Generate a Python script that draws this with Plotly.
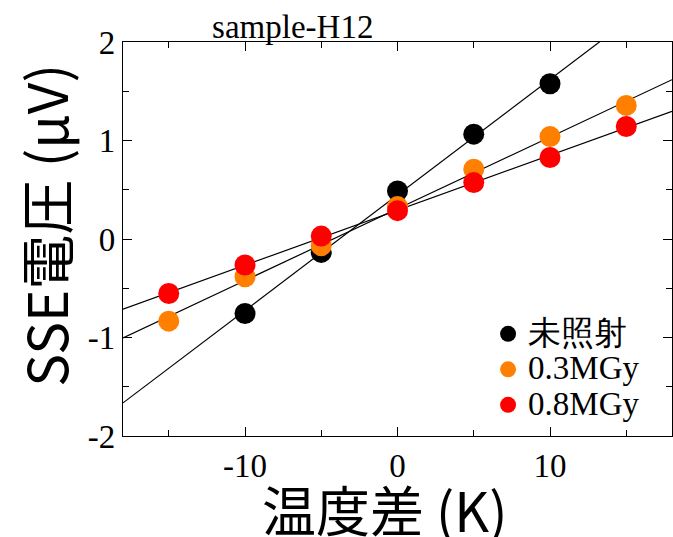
import numpy as np
import plotly.graph_objects as go

# Data
names = ["未照射", "0.3MGy", "0.8MGy"]
colors = ["#000000", "#ff8000", "#ff0000"]
x_black = [-10, -5, 0, 5, 10]
y_black = [-0.756, -0.136, 0.488, 1.064, 1.576]
x_orange = [-15, -10, -5, 0, 5, 10, 15]
y_orange = [-0.834, -0.383, -0.068, 0.329, 0.708, 1.04, 1.356]
x_red = [-15, -10, -5, 0, 5, 10, 15]
y_red = [-0.553, -0.264, 0.03, 0.288, 0.573, 0.827, 1.142]
title_text = "sample-H12"
x_title = "温度差 (K)"
y_title = "SSE電圧 (μV)"
x_range = [-18, 18]
y_range = [-2, 2]

series = [(x_black, y_black), (x_orange, y_orange), (x_red, y_red)]

fig = go.Figure()
# Fit lines
xl = np.array(x_range, dtype=float)
for xs, ys in series:
    k, b = np.polyfit(xs, ys, 1)
    fig.add_trace(go.Scatter(x=xl, y=k * xl + b, mode="lines",
                             line=dict(color="black", width=1.2),
                             showlegend=False, hoverinfo="skip"))
# Markers
for (xs, ys), n, c in zip(series, names, colors):
    fig.add_trace(go.Scatter(x=xs, y=ys, mode="markers",
                             name="<span style='font-size:33px'>" + n + "</span>",
                             marker=dict(color=c, size=21, line=dict(width=0))))

serif = "Liberation Serif, Times New Roman, serif"
cjk = "Noto Sans CJK JP, Noto Sans, sans-serif"

axis_common = dict(showline=True, linecolor="black", linewidth=1.3, mirror="ticks",
                   ticks="inside", ticklen=9, tickwidth=1.3, tickcolor="black",
                   showgrid=False, zeroline=False,
                   tickfont=dict(family=serif, size=33, color="black"))

fig.update_xaxes(range=x_range, tickvals=[-10, 0, 10], ticktext=["-10", "0", "10"],
                 minor=dict(tickvals=[-15, -5, 5, 15], ticks="inside", ticklen=6,
                            tickwidth=1.3, tickcolor="black"),
                 **axis_common)
fig.update_yaxes(range=y_range, tickvals=[-2, -1, 0, 1, 2], ticktext=["-2", "-1", "0", "1", "2"],
                 minor=dict(tickvals=[-1.5, -0.5, 0.5, 1.5], ticks="inside", ticklen=6,
                            tickwidth=1.3, tickcolor="black"),
                 **axis_common)

fig.add_annotation(text=x_title, xref="paper", yref="paper", x=0.477, y=-0.183,
                   xanchor="center", yanchor="middle", showarrow=False,
                   font=dict(family=cjk, size=54, color="black"))
fig.add_annotation(text=y_title, xref="paper", yref="paper", x=-0.144, y=0.536,
                   xanchor="center", yanchor="middle", showarrow=False, textangle=-90,
                   font=dict(family=cjk, size=55, color="black"))

fig.update_layout(
    width=673, height=537,
    margin=dict(l=123, r=1, t=42, b=101),
    plot_bgcolor="white", paper_bgcolor="white",
    title=dict(text=title_text, font=dict(family=serif, size=33, color="black"),
               x=0.435, xanchor="center", y=0.95, yanchor="middle"),
    legend=dict(x=0.665, y=0.317, xanchor="left", yanchor="top",
                font=dict(family=serif, size=25, color="black"),
                bgcolor="rgba(0,0,0,0)", tracegroupgap=0),
)

fig.write_html("out.html")
